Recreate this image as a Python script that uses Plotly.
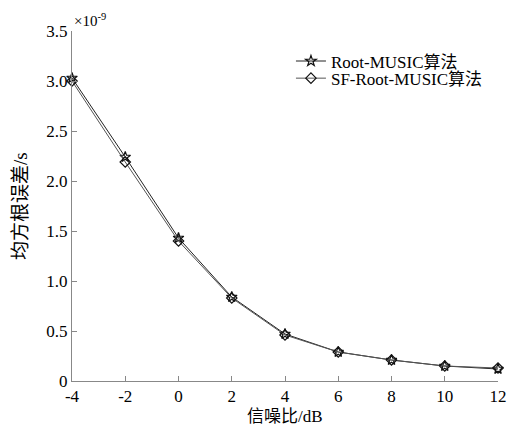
import plotly.graph_objects as go

snr = [-4, -2, 0, 2, 4, 6, 8, 10, 12]
root_music = [3.03, 2.24, 1.43, 0.84, 0.47, 0.29, 0.21, 0.15, 0.12]
sf_root_music = [3.00, 2.19, 1.40, 0.83, 0.46, 0.29, 0.21, 0.15, 0.13]
y_ticks = [0, 0.5, 1.0, 1.5, 2.0, 2.5, 3.0, 3.5]
y_tick_text = ["0", "0.5", "1.0", "1.5", "2.0", "2.5", "3.0", "3.5"]
x_ticks = [-4, -2, 0, 2, 4, 6, 8, 10, 12]
x_tick_text = ["-4", "-2", "0", "2", "4", "6", "8", "10", "12"]

FONT = "Liberation Serif, Times New Roman, Noto Sans CJK SC, serif"

fig = go.Figure()
fig.add_trace(go.Scatter(
    x=snr, y=root_music, mode="lines+markers", name="Root-MUSIC算法",
    line=dict(color="#222222", width=1),
    marker=dict(symbol="star-open", size=8, color="#111111", line=dict(width=1.2)),
    cliponaxis=False, legend="legend"))
fig.add_trace(go.Scatter(
    x=snr, y=sf_root_music, mode="lines+markers", name="SF-Root-MUSIC算法",
    line=dict(color="#555555", width=1),
    marker=dict(symbol="diamond-open", size=8, color="#111111", line=dict(width=1.2)),
    cliponaxis=False, legend="legend2"))

leg_common = dict(xanchor="left", yanchor="middle", bgcolor="rgba(0,0,0,0)",
                  font=dict(size=17, family=FONT), itemwidth=30)

fig.update_layout(
    width=512, height=427,
    margin=dict(l=72, r=14, t=31, b=46),
    paper_bgcolor="white", plot_bgcolor="white",
    font=dict(family=FONT, size=17, color="black"),
    showlegend=True,
    legend=dict(x=0.514, y=0.913, **leg_common),
    legend2=dict(x=0.514, y=0.864, **leg_common),
    xaxis=dict(range=[-4, 12], tickmode="array", tickvals=x_ticks, ticktext=x_tick_text,
               showgrid=False, zeroline=False, showline=True, linecolor="#888888",
               linewidth=1, ticks="inside", ticklen=5, tickcolor="#888888",
               ticklabelstandoff=0, automargin=False,
               tickfont=dict(size=17)),
    yaxis=dict(range=[0, 3.5], tickmode="array", tickvals=y_ticks, ticktext=y_tick_text,
               showgrid=False, zeroline=False, showline=True, linecolor="#888888",
               linewidth=1, ticks="inside", ticklen=5, tickcolor="#888888",
               automargin=False,
               tickfont=dict(size=17)),
    annotations=[
        dict(text="×10<sup>-9</sup>", xref="paper", yref="paper",
             x=0.0, y=1.0, xanchor="left", yanchor="bottom",
             showarrow=False, font=dict(size=15, family=FONT)),
        dict(text="信噪比/dB", xref="paper", yref="paper", x=0.5, y=0,
             xanchor="center", yanchor="middle", yshift=-35,
             showarrow=False, font=dict(size=17, family=FONT)),
        dict(text="均方根误差/s", xref="paper", yref="paper", x=0, y=0.5,
             xanchor="center", yanchor="middle", xshift=-52, textangle=-90,
             showarrow=False, font=dict(size=19, family=FONT)),
    ],
)

fig.write_html("out.html", config={"displayModeBar": False},
               post_script="document.body.style.margin='0';document.body.style.overflow='hidden';")
